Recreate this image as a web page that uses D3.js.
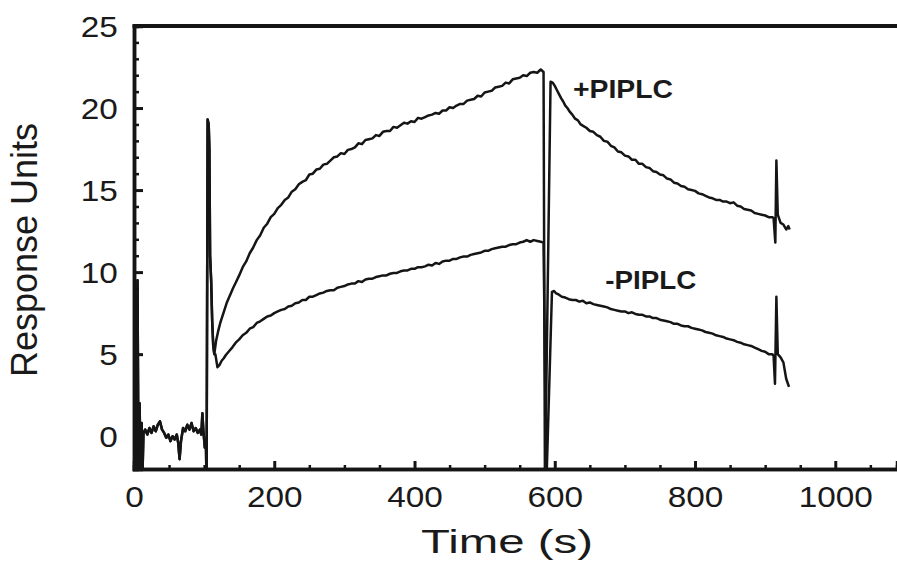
<!DOCTYPE html>
<html>
  <head>
    <meta charset="UTF-8" />
    <script src="https://d3js.org/d3.v7.min.js"></script>
    <style>
      body { margin: 0; background: #fff; }
      text { font-family: "Liberation Sans", Arial, sans-serif; fill: #1a1a1a; }
    </style>
  </head>
  <body>
    <div id="chart"></div>
    <script>
      // time (s), response units
      // shared part: injection artefact, baseline, second injection spike
      const baseline = [
        [0, -3], [2, 1], [3.5, -3], [5, 9.5], [6.5, -3], [8, 2], [9.5, -3], [11, 0.8], [12, -2.5],
        [13.5, 0.2], [16, 0.4], [19, 0.1], [22, 0.5], [25, 0.2], [28, 0.6], [31, 0.3], [34, 0.7],
        [37, 0.9], [40, 0.4], [43, 0.2], [46, -0.1], [49, 0.1], [52, -0.3], [55, 0], [58, -0.2],
        [61, 0.1], [63, -0.4], [65, -1.4], [67, -0.3], [70, 0.5], [73, 0.3], [76, 0.7], [79, 0.4],
        [82, 0.8], [85, 0.3], [88, 0.5], [91, 0.2], [94, 0.4], [96, 0.1], [97.5, 1.4], [99, 0.3],
        [101, -0.7], [102.5, -0.3], [103.5, -3], [105, 19.3], [106.5, 19.0], [107.5, 17.5],
        [108.5, 11], [110, 9.5], [111.5, 7], [113, 5.5], [114.5, 5.0]
      ];
      // +PIPLC
      const plusAssoc = [
        [117, 5.8], [120, 6.4], [123, 6.9], [126, 7.3], [129, 7.7], [132, 8.1], [135, 8.4],
        [138, 8.7], [141, 9.0], [145, 9.35], [150, 9.8], [155, 10.3], [160, 10.65], [165, 11.15],
        [170, 11.5], [175, 11.95], [180, 12.25], [185, 12.7], [190, 12.95], [195, 13.35],
        [200, 13.55], [205, 13.9], [210, 14.1], [215, 14.4], [220, 14.55], [225, 14.9],
        [230, 15.05], [235, 15.35], [240, 15.5], [245, 15.6], [250, 15.95], [255, 16.0],
        [260, 16.25], [265, 16.3], [270, 16.55], [275, 16.6], [280, 16.8], [285, 17.0],
        [290, 17.05], [295, 17.25], [300, 17.2], [305, 17.45], [310, 17.5], [315, 17.6],
        [320, 17.85], [325, 17.8], [330, 18.05], [335, 18.1], [340, 18.15], [345, 18.35],
        [350, 18.3], [355, 18.55], [360, 18.6], [365, 18.6], [370, 18.85], [375, 18.8],
        [380, 18.95], [385, 19.1], [390, 19.05], [395, 19.2], [400, 19.15], [405, 19.4],
        [410, 19.35], [415, 19.45], [420, 19.55], [425, 19.6], [430, 19.7], [435, 19.65],
        [440, 19.85], [445, 19.85], [450, 20.05], [455, 20.0], [460, 20.15], [465, 20.25],
        [470, 20.25], [475, 20.45], [480, 20.5], [485, 20.55], [490, 20.75], [495, 20.7],
        [500, 20.95], [505, 21.0], [510, 21.05], [515, 21.25], [520, 21.3], [525, 21.35],
        [530, 21.55], [535, 21.5], [540, 21.75], [545, 21.8], [550, 21.85], [555, 22.0],
        [560, 21.95], [565, 22.15], [570, 22.2], [575, 22.15], [580, 22.35], [584, 22.2]
      ];
      const plusDissoc = [
        [586, -3], [594, 21.6], [597, 21.55], [600, 21.35], [603, 21.1], [606, 20.85], [609, 20.6],
        [612, 20.4], [615, 20.15], [618, 20.0], [621, 19.8], [625, 19.6], [629, 19.35],
        [633, 19.25], [637, 19.0], [641, 18.9], [645, 18.8], [650, 18.6], [655, 18.55],
        [660, 18.35], [665, 18.25], [670, 18.0], [675, 17.95], [680, 17.7], [685, 17.6],
        [690, 17.35], [695, 17.3], [700, 17.1], [705, 17.05], [710, 16.85], [715, 16.85],
        [720, 16.6], [725, 16.6], [730, 16.4], [735, 16.35], [740, 16.15], [745, 16.1],
        [750, 15.95], [755, 15.9], [760, 15.7], [765, 15.65], [770, 15.45], [775, 15.4],
        [780, 15.25], [785, 15.2], [790, 15.05], [795, 15.0], [800, 14.95], [805, 14.8],
        [810, 14.75], [815, 14.65], [820, 14.55], [825, 14.5], [830, 14.4], [835, 14.4],
        [840, 14.3], [845, 14.3], [850, 14.2], [855, 14.25], [860, 14.05], [865, 14.0],
        [870, 13.85], [875, 13.8], [880, 13.75], [885, 13.6], [890, 13.55], [895, 13.5],
        [900, 13.45], [905, 13.35], [910, 13.35], [912, 13.3],
        [914.5, 11.8], [916, 16.8], [918, 13.5], [922, 13.0], [926, 12.9], [930, 12.6],
        [933, 12.8], [935, 12.6]
      ];
      // -PIPLC
      const minusAssoc = [
        [116, 5.0], [119, 4.2], [122, 4.35], [125, 4.6], [128, 4.75], [131, 4.95], [134, 5.1],
        [137, 5.25], [140, 5.4], [145, 5.7], [150, 5.9], [155, 6.15], [160, 6.3], [165, 6.55],
        [170, 6.65], [175, 6.9], [180, 7.0], [185, 7.15], [190, 7.3], [195, 7.35], [200, 7.5],
        [205, 7.6], [210, 7.7], [215, 7.75], [220, 7.9], [225, 7.95], [230, 8.1], [235, 8.15],
        [240, 8.3], [245, 8.3], [250, 8.5], [255, 8.5], [260, 8.6], [265, 8.7], [270, 8.75],
        [275, 8.85], [280, 8.9], [285, 8.9], [290, 9.05], [295, 9.1], [300, 9.15], [305, 9.25],
        [310, 9.3], [315, 9.3], [320, 9.45], [325, 9.4], [330, 9.55], [335, 9.6], [340, 9.6],
        [345, 9.7], [350, 9.75], [355, 9.8], [360, 9.8], [365, 9.9], [370, 9.95], [375, 9.95],
        [380, 10.05], [385, 10.1], [390, 10.1], [395, 10.2], [400, 10.2], [405, 10.3],
        [410, 10.3], [415, 10.35], [420, 10.45], [425, 10.4], [430, 10.55], [435, 10.5],
        [440, 10.65], [445, 10.7], [450, 10.7], [455, 10.8], [460, 10.8], [465, 10.9],
        [470, 10.95], [475, 10.95], [480, 11.05], [485, 11.1], [490, 11.15], [495, 11.2],
        [500, 11.3], [505, 11.3], [510, 11.4], [515, 11.45], [520, 11.5], [525, 11.55],
        [530, 11.55], [535, 11.65], [540, 11.7], [545, 11.7], [550, 11.8], [555, 11.85],
        [560, 11.95], [565, 11.85], [570, 11.95], [575, 11.9], [580, 11.85], [584, 11.8]
      ];
      const minusDissoc = [
        [588, -3], [596, 8.8], [599, 8.85], [602, 8.7], [605, 8.65], [610, 8.5], [615, 8.45],
        [620, 8.35], [625, 8.3], [630, 8.3], [635, 8.2], [640, 8.25], [645, 8.1], [650, 8.15],
        [655, 8.05], [660, 8.0], [665, 7.95], [670, 7.9], [675, 7.85], [680, 7.75], [685, 7.7],
        [690, 7.65], [695, 7.6], [700, 7.6], [705, 7.5], [710, 7.55], [715, 7.45], [720, 7.4],
        [725, 7.4], [730, 7.3], [735, 7.3], [740, 7.2], [745, 7.2], [750, 7.1], [755, 7.05],
        [760, 7.0], [765, 6.95], [770, 6.85], [775, 6.85], [780, 6.75], [785, 6.7], [790, 6.7],
        [795, 6.6], [800, 6.55], [805, 6.5], [810, 6.45], [815, 6.35], [820, 6.3], [825, 6.25],
        [830, 6.15], [835, 6.1], [840, 6.05], [845, 5.95], [850, 5.9], [855, 5.85], [860, 5.75],
        [865, 5.7], [870, 5.6], [875, 5.55], [880, 5.5], [885, 5.4], [890, 5.3], [895, 5.2],
        [900, 5.15], [905, 5.0], [910, 5.0], [912, 4.9],
        [914, 3.2], [916, 8.5], [918, 5.0], [922, 4.8], [926, 4.5], [930, 3.5], [934, 3.0]
      ];
      const xMajor = [0, 200, 400, 600, 800, 1000];
      const yMajor = [0, 5, 10, 15, 20, 25];
      const labels = [
        { text: "+PIPLC", t: 626, v: 20.6, w: 100 },
        { text: "-PIPLC", t: 672, v: 9.0, w: 91 }
      ];

      const width = 897, height = 562;
      const svg = d3.select("#chart").append("svg")
        .attr("width", width).attr("height", height);

      const x = d3.scaleLinear().domain([0, 1088]).range([134, 897]);
      const y = d3.scaleLinear().domain([-2, 25]).range([469, 26]);

      svg.append("clipPath").attr("id", "plot")
        .append("rect").attr("x", 134).attr("y", 26).attr("width", 763).attr("height", 443);

      const line = d3.line().x(d => x(d[0])).y(d => y(d[1]));
      const plus = baseline.concat(plusAssoc, plusDissoc);
      const minus = baseline.concat(minusAssoc, minusDissoc);

      const curves = svg.append("g").attr("clip-path", "url(#plot)");
      [minus, plus].forEach(s => {
        curves.append("path").datum(s)
          .attr("d", line)
          .attr("fill", "none")
          .attr("stroke", "#151515")
          .attr("stroke-width", 2.5)
          .attr("stroke-linejoin", "round");
      });

      // axes: ticks point inward
      const xMinor = d3.range(50, 1088, 50).filter(d => d % 200 != 0);
      const yMinor = d3.range(-1, 25, 1).filter(d => d % 5 != 0);

      const gx = svg.append("g").attr("transform", "translate(0," + y(-2) + ")");
      gx.call(d3.axisBottom(x).tickValues(xMinor).tickSize(-4).tickFormat(""));
      gx.selectAll(".tick line").attr("stroke-width", 2.5);
      const gxMaj = svg.append("g").attr("transform", "translate(0," + y(-2) + ")")
        .call(d3.axisBottom(x).tickValues(xMajor).tickSize(-8).tickPadding(0).tickFormat(d3.format("d")));
      gxMaj.selectAll(".tick line").attr("stroke-width", 3);
      gxMaj.selectAll(".tick text")
        .attr("y", 38).attr("dy", 0)
        .attr("transform", "scale(1.15,1)")
        .style("font-size", "29px");

      const gy = svg.append("g").attr("transform", "translate(" + x(0) + ",0)");
      gy.call(d3.axisLeft(y).tickValues(yMinor).tickSize(-5).tickFormat(""));
      gy.selectAll(".tick line").attr("stroke-width", 2.5);
      const gyMaj = svg.append("g").attr("transform", "translate(" + x(0) + ",0)")
        .call(d3.axisLeft(y).tickValues(yMajor).tickSize(-9).tickPadding(0));
      gyMaj.selectAll(".tick line").attr("stroke-width", 3);
      gyMaj.selectAll(".tick text")
        .attr("x", -14).attr("dy", "0.36em")
        .attr("transform", "scale(1.15,1)")
        .style("font-size", "29px");

      svg.selectAll(".domain").attr("stroke", "#151515").attr("stroke-width", 3.5);
      svg.selectAll(".tick line").attr("stroke", "#151515");
      svg.selectAll(".tick text").attr("fill", "#1a1a1a");

      // top frame line
      svg.append("line")
        .attr("x1", x(0) - 1.5).attr("x2", 897).attr("y1", y(25)).attr("y2", y(25))
        .attr("stroke", "#151515").attr("stroke-width", 4);

      // titles
      svg.append("text")
        .attr("x", 507).attr("y", 553)
        .attr("text-anchor", "middle")
        .attr("textLength", 172).attr("lengthAdjust", "spacingAndGlyphs")
        .style("font-size", "34px")
        .text("Time (s)");
      svg.append("text")
        .attr("transform", "translate(37,250) rotate(-90)")
        .attr("text-anchor", "middle")
        .style("font-size", "36px")
        .text("Response Units");

      svg.selectAll(".lbl").data(labels).join("text")
        .attr("class", "lbl")
        .attr("x", d => x(d.t)).attr("y", d => y(d.v))
        .attr("textLength", d => d.w)
        .attr("lengthAdjust", "spacingAndGlyphs")
        .style("font-size", "25px").style("font-weight", "bold")
        .text(d => d.text);
    </script>
  </body>
</html>
